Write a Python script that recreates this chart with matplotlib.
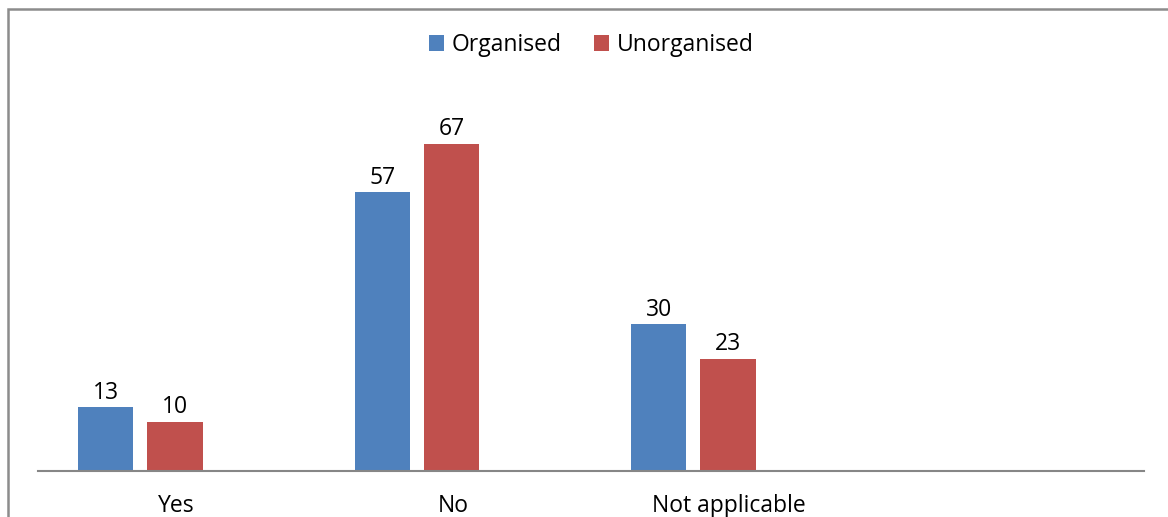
import numpy as np
import matplotlib.pyplot as plt
from matplotlib.patches import Rectangle

# survey answers, organised vs unorganised sector
categories = ['Yes', 'No', 'Not applicable', '']
organised = [13, 57, 30, np.nan]
unorganised = [10, 67, 23, np.nan]

W, H, DPI = 1168, 517, 100
plt.rcParams['font.family'] = ['Open Sans', 'DejaVu Sans']
FS = 16.5

fig = plt.figure(figsize=(W / DPI, H / DPI), dpi=DPI)

# outer chart frame (right and bottom sides fall outside the image)
fig.patches.append(Rectangle((7.5 / W, -0.1), 1.2, (H - 8.5) / H + 0.1,
                             transform=fig.transFigure, fill=False,
                             edgecolor='#8c8c8c', linewidth=1.8))

# plot area: baseline at y=471px, spans x 38..1144px
left, right = 38 / W, 1144 / W
base, top = (H - 471) / H, (H - 80) / H
ax = fig.add_axes([left, base, right - left, top - base])

x = np.arange(len(categories))
bw = 0.2
b1 = ax.bar(x - 0.255, organised, bw, color='#4F81BD', label='Organised')
b2 = ax.bar(x - 0.005, unorganised, bw, color='#C0504D', label='Unorganised')

for bars, vals in ((b1, organised), (b2, unorganised)):
    for rect, v in zip(bars, vals):
        if np.isnan(v):
            continue
        ax.annotate(f'{v:g}', (rect.get_x() + rect.get_width() / 2, v),
                    xytext=(0, 2), textcoords='offset points',
                    ha='center', va='bottom', fontsize=FS)

ax.set_xlim(-0.5, len(categories) - 0.5)
ax.set_ylim(0, 80)
ax.set_xticks(x)
ax.set_xticklabels(categories, fontsize=FS)
ax.tick_params(axis='x', length=0, pad=16.5)
ax.set_yticks([])
for s in ('top', 'right', 'left'):
    ax.spines[s].set_visible(False)
ax.spines['bottom'].set_color('#868686')
ax.spines['bottom'].set_linewidth(1.5)

fig.legend(handles=[b1, b2], loc='center', bbox_to_anchor=(591 / W, 1 - 45 / H),
           ncol=2, frameon=False, fontsize=FS, handlelength=0.65,
           handleheight=0.65, handletextpad=0.35, columnspacing=1.4)

fig.savefig('out.png', dpi=DPI)
